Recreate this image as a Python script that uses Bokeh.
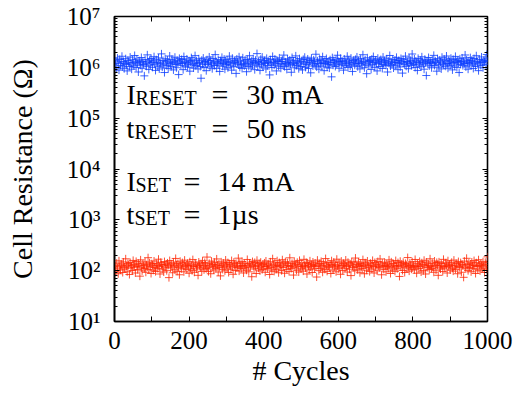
from bokeh.plotting import figure
from bokeh.models import (Range1d, LinearAxis, LogAxis, FixedTicker, LogTicker,
                          CustomJSTickFormatter, Label)
from bokeh.embed import file_html
from bokeh.resources import INLINE

# ---------------- data ----------------
cycles = list(range(2, 1001, 2))

# high-resistance (RESET) state, in units of 1e4 Ohm
reset_r_1e4 = [
118,134,97,152,121,88,143,109,127,165,102,131,94,119,148,113,85,137,126,104,159,116,92,140,123,
107,171,129,99,145,117,81,135,124,110,156,96,130,114,68,142,120,105,176,128,91,138,111,149,125,
100,133,162,115,87,141,122,106,153,93,126,118,184,101,136,112,79,147,129,108,139,95,121,167,117,
103,144,125,89,131,158,114,98,137,120,72,150,127,110,143,119,90,163,132,106,124,146,101,116,135,
84,128,155,112,139,97,121,170,108,134,118,93,147,125,104,61,138,115,152,99,130,122,86,141,113,
127,160,102,136,117,94,149,123,109,178,131,96,120,142,111,83,135,126,157,105,119,145,92,132,114,
140,98,124,166,110,129,88,151,118,103,137,123,76,146,127,112,161,100,133,116,95,154,121,107,139,
115,82,143,128,104,169,120,97,134,111,148,125,90,138,117,186,106,130,122,87,144,113,159,101,126,
136,119,93,150,108,132,124,71,141,116,99,164,127,110,145,121,85,137,130,105,153,118,96,131,142,
112,174,103,128,119,91,147,125,107,139,114,80,156,122,133,98,120,168,109,135,126,94,148,116,104,
131,89,143,121,158,100,127,113,146,95,124,136,78,152,118,106,140,129,111,181,102,134,120,92,145,
117,138,106,162,123,86,132,119,149,101,128,114,97,141,125,65,155,110,136,122,104,144,116,173,130,
96,127,150,112,135,121,88,146,108,131,118,165,99,139,124,105,152,115,83,137,128,110,143,120,160,
103,134,119,93,148,126,111,177,129,98,140,116,75,154,122,107,136,130,91,145,113,163,125,100,138,
121,85,151,117,132,104,142,127,95,159,114,135,123,109,147,81,133,120,171,106,128,115,144,97,126,
139,110,157,124,90,136,118,102,149,131,77,141,122,113,166,105,130,126,94,153,119,137,108,183,127,
114,146,99,133,121,87,150,125,111,138,103,161,129,116,92,144,123,69,135,118,156,107,131,124,98,
142,120,172,109,134,126,84,148,115,101,139,127,93,158,121,112,145,133,105,167,119,96,137,128,110,
151,117,89,143,124,106,164,130,99,136,122,79,147,114,128,153,108,132,119,175,102,140,125,92,134,
118,155,111,138,127,95,149,121,104,169,131,116,86,142,126,109,160,123,98,137,129,146,113,179,133,
]

# low-resistance (SET) state, in Ohm
set_r = [
124,98,141,112,87,156,119,103,135,127,92,148,116,108,171,122,95,138,130,84,145,113,126,101,159,
117,133,90,152,121,105,140,128,78,163,114,99,136,125,110,149,93,131,118,180,106,143,123,88,137,
129,102,155,115,96,139,126,111,168,120,86,146,132,107,124,94,151,117,134,100,142,127,73,158,113,
136,119,91,147,125,104,174,130,97,138,116,83,153,122,109,144,128,95,161,118,131,106,140,124,89,
150,112,127,100,165,121,93,142,133,108,119,81,148,126,114,137,97,157,123,104,145,129,110,185,117,
96,139,125,87,154,118,132,103,146,122,111,170,128,94,136,115,79,149,127,106,141,120,99,162,131,
113,144,92,135,124,107,158,119,85,147,130,101,139,116,125,176,98,143,121,110,152,126,90,137,114,
128,102,166,123,95,140,117,134,76,151,125,108,145,120,88,160,129,112,138,99,147,124,105,133,118,
142,93,155,121,110,136,127,84,149,115,103,172,131,97,141,122,107,157,126,91,144,119,130,100,164,
116,137,89,150,124,106,143,128,96,179,120,111,139,125,82,153,117,134,102,146,129,94,159,122,108,
135,120,98,167,127,113,145,86,138,123,104,156,118,132,92,148,126,109,141,121,75,161,130,100,137,
111,152,125,93,140,118,106,173,129,97,144,122,114,134,88,157,127,103,147,119,131,95,168,124,109,
143,117,85,154,126,101,139,130,112,162,121,94,146,128,107,136,80,150,123,115,142,99,177,119,132,
104,148,127,91,138,120,110,165,125,87,143,131,102,155,116,124,96,140,128,108,159,122,90,145,118,
134,99,151,123,114,170,129,83,141,119,106,147,126,95,136,121,112,163,130,88,149,117,103,138,125,
97,158,122,109,144,127,77,153,118,135,101,146,124,92,139,131,113,181,120,98,142,126,107,150,116,
129,104,166,121,89,137,125,111,152,119,94,143,132,100,160,123,86,148,127,115,136,105,171,122,110,
140,118,93,155,126,102,145,130,81,149,117,108,138,124,96,167,121,113,142,128,90,157,119,134,103,
127,146,112,98,161,123,106,139,129,87,151,120,115,144,93,133,125,74,154,118,109,175,131,100,141,
116,135,95,148,124,111,158,127,88,143,121,104,164,130,99,137,126,112,150,119,92,146,133,107,187,
]

reset_r = [v * 1e4 for v in reset_r_1e4]

x_ticks = [0, 100, 200, 300, 400, 500, 600, 700, 800, 900, 1000]
x_title = "# Cycles"
y_title = "Cell Resistance (\u03a9)"

ann_main = ["I", "t", "I", "t"]
ann_sub = ["RESET", "RESET", "SET", "SET"]
ann_value = ["30 mA", "50 ns", "14 mA", "1\u00b5s"]

# ---------------- style ----------------
FONT = "Liberation Serif"
BLUE = "#0a3cff"
RED = "#ff2400"

p = figure(frame_width=373, frame_height=305,
           min_border_left=114, min_border_right=27,
           min_border_top=16, min_border_bottom=78,
           x_range=Range1d(0, 1000), y_range=Range1d(10, 1e7),
           y_axis_type="log", output_backend="svg", toolbar_location=None)

p.background_fill_color = "white"
p.border_fill_color = "white"
p.outline_line_color = "black"
p.outline_line_width = 1.6
p.xgrid.visible = False
p.ygrid.visible = False

p.scatter(cycles, reset_r, marker="cross", size=8, line_color=BLUE,
          line_alpha=0.8, line_width=1)
p.scatter(cycles, set_r, marker="cross", size=8, line_color=RED,
          line_alpha=0.8, line_width=1)

xfmt = CustomJSTickFormatter(code="return (tick % 200 === 0) ? tick.toString() : '';")
yfmt = CustomJSTickFormatter(code="""
const sup = {'0':'\u2070','1':'\u00b9','2':'\u00b2','3':'\u00b3','4':'\u2074',
             '5':'\u2075','6':'\u2076','7':'\u2077','8':'\u2078','9':'\u2079'};
const e = Math.round(Math.log10(tick));
return '10' + String(e).split('').map(c => sup[c]).join('');
""")

xa = p.xaxis[0]
xa.ticker = FixedTicker(ticks=x_ticks)
xa.formatter = xfmt
ya = p.yaxis[0]
ya.ticker = LogTicker(num_minor_ticks=10)
ya.formatter = yfmt

for ax in (xa, ya):
    ax.major_tick_in = 5
    ax.major_tick_out = 0
    ax.minor_tick_in = 3
    ax.minor_tick_out = 0
    ax.major_tick_line_color = "black"
    ax.minor_tick_line_color = "black"
    ax.axis_line_color = "black"
    ax.axis_line_width = 1.6
    ax.major_label_text_font = FONT
    ax.major_label_text_font_size = "25px"
    ax.major_label_text_color = "black"
    ax.axis_label_text_font = FONT
    ax.axis_label_text_font_size = "28px"
    ax.axis_label_text_font_style = "normal"
    ax.axis_label_text_color = "black"
xa.minor_tick_in = 0
xa.major_label_standoff = 10
xa.axis_label = x_title
xa.axis_label_standoff = 3
ya.major_label_standoff = 14
ya.axis_label = y_title
ya.axis_label_standoff = 26

top = LinearAxis(ticker=FixedTicker(ticks=x_ticks),
                 formatter=CustomJSTickFormatter(code="return '';"))
right = LogAxis(ticker=LogTicker(num_minor_ticks=10),
                formatter=CustomJSTickFormatter(code="return '';"))
for ax in (top, right):
    ax.major_tick_in = 5
    ax.major_tick_out = 0
    ax.minor_tick_in = 3
    ax.minor_tick_out = 0
    ax.axis_line_color = None
    ax.major_label_text_font_size = "1px"
    ax.major_label_standoff = 0
top.minor_tick_in = 0
p.add_layout(top, "above")
p.add_layout(right, "right")

# annotation text (screen units relative to the frame)
line_y = [227, 193, 140, 107]
sub_x = [21, 20, 21, 20]
eq_x = [97, 97, 69, 69]
val_x = [132, 132, 103, 103]
for main, sub, val, yb, sx, ex, vx in zip(ann_main, ann_sub, ann_value,
                                          line_y, sub_x, eq_x, val_x):
    common = dict(x_units="screen", y_units="screen", text_font=FONT,
                  text_color="black", text_baseline="alphabetic")
    p.add_layout(Label(x=12, y=yb, text=main, text_font_size="28px", **common))
    p.add_layout(Label(x=sx, y=yb - 3, text=sub, text_font_size="20px", **common))
    p.add_layout(Label(x=ex, y=yb, text="=", text_font_size="30px", **common))
    p.add_layout(Label(x=vx, y=yb, text=val, text_font_size="28px", **common))

open("out.html", "w").write(file_html(p, INLINE))
